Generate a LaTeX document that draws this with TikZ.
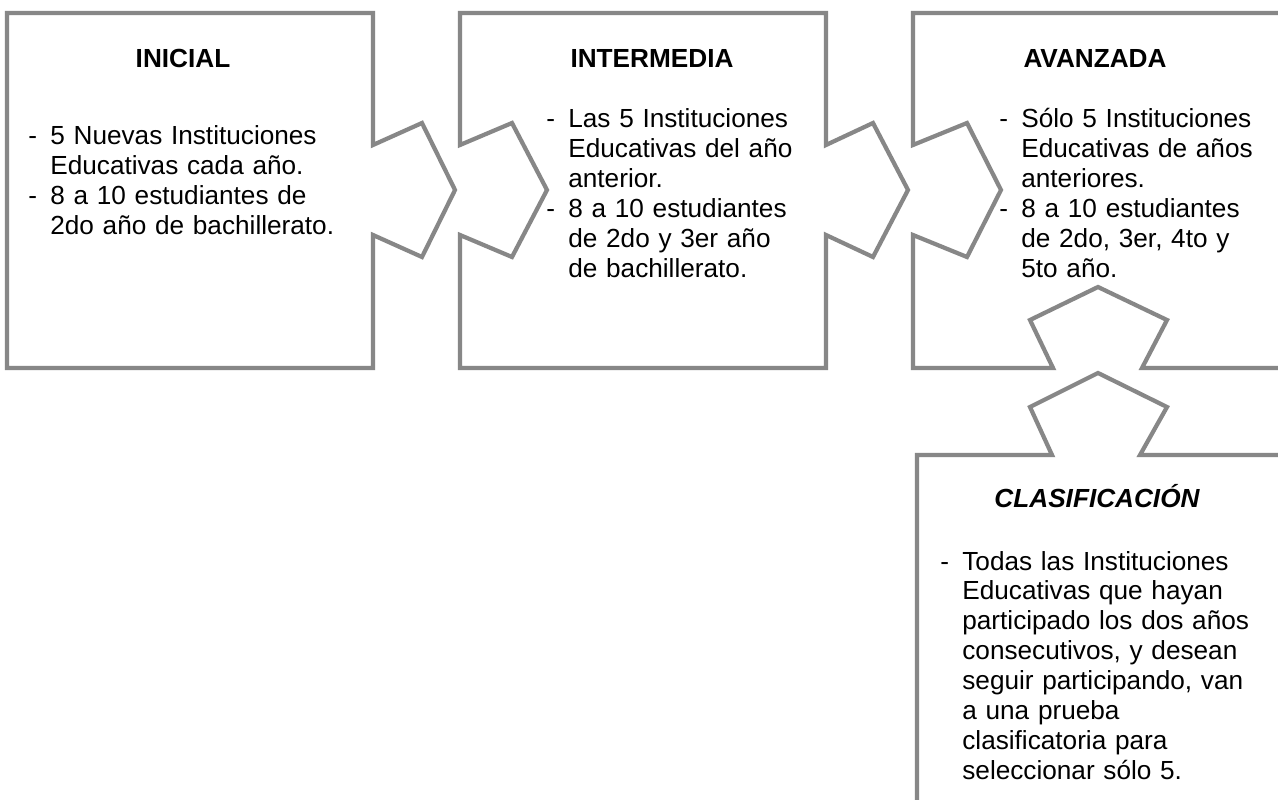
\documentclass[tikz,border=0pt]{standalone}
\usepackage{fontspec}
\setmainfont{Liberation Sans}
\definecolor{borde}{RGB}{135,135,135}
\newcommand{\guion}{\makebox[0.44cm][l]{-}}
\newcommand{\sangria}{\hspace*{0.44cm}}
\begin{document}
\begin{tikzpicture}[x=0.02cm,y=-0.02cm,
    pieza/.style={draw=borde,line width=2.4,line join=miter},
    titulo/.style={anchor=base,inner sep=0,font=\fontsize{14.9}{17.07}\selectfont\bfseries},
    texto/.style={anchor=base west,inner sep=0,align=left,text width=7cm,
                  font=\fontsize{14.9}{17.07}\selectfont}]
\clip (0,0) rectangle (1278,800);
\fill[white] (0,0) rectangle (1278,800);

% inicial
\draw[pieza] (7,13) -- (373,13) -- (373,145) -- (422,123) -- (455,190) --
      (422,257) -- (373,235) -- (373,368) -- (7,368) -- cycle;
% intermedia
\draw[pieza] (460,13) -- (826,13) -- (826,145) -- (873,123) -- (908,190) --
      (873,257) -- (826,235) -- (826,368) -- (460,368) -- (460,235) --
      (512,257) -- (547,190) -- (512,123) -- (460,145) -- cycle;
% avanzada
\draw[pieza] (1290,13) -- (913,13) -- (913,145) -- (967,123) -- (1001,190) --
      (967,257) -- (913,235) -- (913,368) -- (1053,368) -- (1030,320) --
      (1098,287) -- (1167,320) -- (1142,368) -- (1290,368);
% clasificacion
\draw[pieza] (1290,455) -- (1140,455) -- (1167,407) -- (1098,373) --
      (1030,407) -- (1052,455) -- (917,455) -- (917,810);

\node[titulo] (tinicial) at (183,68) {INICIAL};
\node[texto] (xinicial) at (28,145)
  {\guion 5 Nuevas Instituciones\\ \sangria Educativas cada año.\\
   \guion 8 a 10 estudiantes de\\ \sangria 2do año de bachillerato.};

\node[titulo] (tintermedia) at (652,68) {INTERMEDIA};
\node[texto] (xintermedia) at (546,128)
  {\guion Las 5 Instituciones\\ \sangria Educativas del año\\ \sangria anterior.\\
   \guion 8 a 10 estudiantes\\ \sangria de 2do y 3er año\\ \sangria de bachillerato.};

\node[titulo] (tavanzada) at (1095,68) {AVANZADA};
\node[texto] (xavanzada) at (999,128)
  {\guion Sólo 5 Instituciones\\ \sangria Educativas de años\\ \sangria anteriores.\\
   \guion 8 a 10 estudiantes\\ \sangria de 2do, 3er, 4to y\\ \sangria 5to año.};

\node[titulo,font=\fontsize{14.9}{17.07}\selectfont\bfseries\itshape] (tclasif) at (1097,507) {CLASIFICACIÓN};
\node[texto] (xclasif) at (940,570)
  {\guion Todas las Instituciones\\ \sangria Educativas que hayan\\ \sangria participado los dos años\\
   \sangria consecutivos, y desean\\ \sangria seguir participando, van\\ \sangria a una prueba\\
   \sangria clasificatoria para\\ \sangria seleccionar sólo 5.};
\end{tikzpicture}
\end{document}
